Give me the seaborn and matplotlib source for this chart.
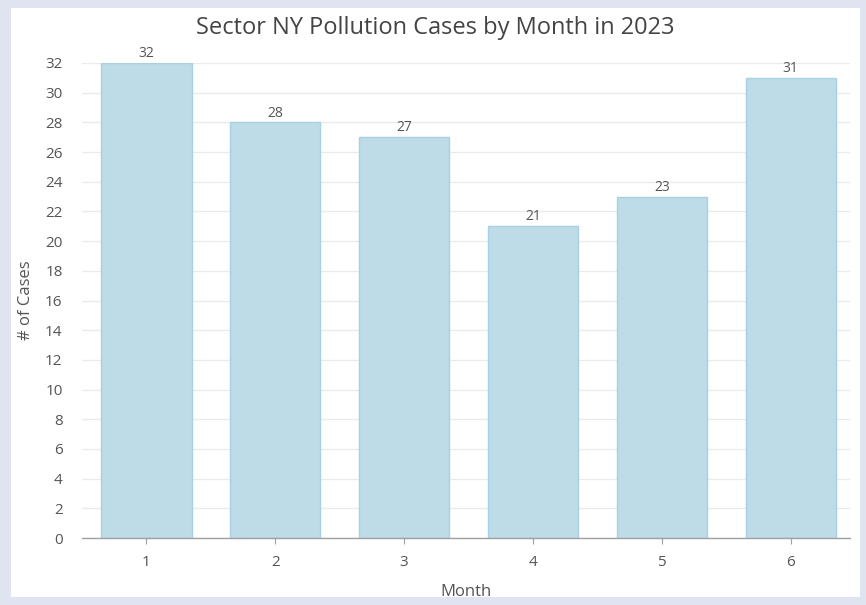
import matplotlib.pyplot as plt
import matplotlib.patches as mpatches
import pandas as pd
import seaborn as sns

# chart data
months = ['1', '2', '3', '4', '5', '6']
cases = [32, 28, 27, 21, 23, 31]

df = pd.DataFrame({'Month': months, 'Cases': cases})

sns.set_style('white')
plt.rcParams['font.family'] = ['Open Sans', 'DejaVu Sans']

fig = plt.figure(figsize=(8.66, 6.05), dpi=100)
fig.patch.set_facecolor('#dfe4f0')
# white card behind the chart
fig.patches.append(mpatches.Rectangle((11 / 866, 8 / 605), 849 / 866, 589 / 605,
                                      transform=fig.transFigure, facecolor='white',
                                      edgecolor='none', zorder=-10))

ax = fig.add_axes([82 / 866, 67 / 605, 768 / 866, 475 / 605])
ax.set_zorder(1)
ax.set_facecolor('none')

sns.barplot(data=df, x='Month', y='Cases', color='#bedce8', edgecolor='#a9d0e2',
            linewidth=1, width=0.7, saturation=1, ax=ax, zorder=2)

# value labels on top of each bar
for p, v in zip(ax.patches, cases):
    ax.text(p.get_x() + p.get_width() / 2, v + 0.12, str(v), ha='center', va='bottom',
            fontsize=10, color='#555555')

ax.set_xlim(-0.5, 5.46)
ax.set_ylim(0, 32)
ax.set_yticks(range(0, 33, 2))
ax.yaxis.grid(True, color='#ebebeb', linewidth=1, zorder=0)
ax.set_axisbelow(True)

for s in ['top', 'right', 'left']:
    ax.spines[s].set_visible(False)
ax.spines['bottom'].set_color('#a0a0a0')
ax.spines['bottom'].set_linewidth(1)

ax.tick_params(axis='y', length=0, pad=14, labelsize=11, labelcolor='#555555')
ax.tick_params(axis='x', length=4, color='#a0a0a0', pad=8, labelsize=11,
               labelcolor='#555555', bottom=True)

ax.set_xlabel('Month', fontsize=12, color='#555555', labelpad=10)
ax.set_ylabel('# of Cases', fontsize=12, color='#555555', labelpad=8)
fig.text(435 / 866, 1 - 28 / 605, 'Sector NY Pollution Cases by Month in 2023',
         ha='center', va='center', fontsize=17, color='#444444')

fig.savefig('out.png', dpi=100)
